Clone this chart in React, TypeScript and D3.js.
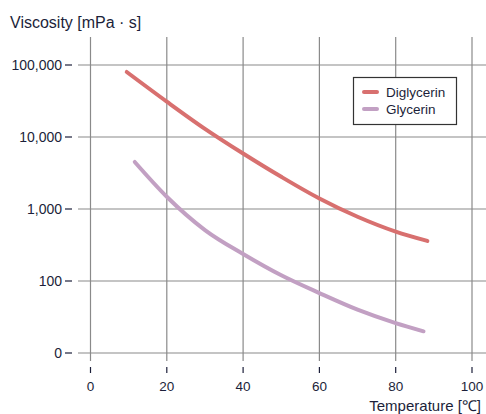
import React from "react";
import * as d3 from "d3";

const xTicks = [0, 20, 40, 60, 80, 100];
const yTicks = [10, 100, 1000, 10000, 100000];
const yTickLabels = ["0", "100", "1,000", "10,000", "100,000"];

const diglycerinT = [9.5, 20, 30, 40, 50, 60, 70, 80, 88.3];
const diglycerinV = [80000, 31000, 13000, 5900, 2800, 1400, 780, 485, 360];
const glycerinT = [11.6, 20, 30, 40, 50, 60, 70, 80, 87.3];
const glycerinV = [4500, 1480, 510, 237, 120, 68, 40, 26, 20];

const seriesNames = ["Diglycerin", "Glycerin"];
const colors = ["#d8706f", "#c2a0c3"];

const W = 486;
const H = 414;
const textColor = "#1c1f3a";
const gridColor = "#8a8a8a";

export default function App() {
  const x = d3.scaleLinear().domain([0, 100]).range([90.5, 472]);
  const y = d3.scaleLog().domain([10, 100000]).range([353, 65]);

  const line = d3
    .line<[number, number]>()
    .x((d) => x(d[0]))
    .y((d) => y(d[1]))
    .curve(d3.curveMonotoneX);

  const series = [
    diglycerinT.map((t, i) => [t, diglycerinV[i]] as [number, number]),
    glycerinT.map((t, i) => [t, glycerinV[i]] as [number, number]),
  ];

  const font = "'Liberation Sans', Arial, Helvetica, sans-serif";

  return (
    <svg
      width={W}
      height={H}
      style={{ position: "absolute", left: 0, top: 0, background: "#fff" }}
      fontFamily={font}
    >
      <text x={10} y={28} fontSize={16} fill={textColor}>
        Viscosity [mPa · s]
      </text>
      {/* horizontal grid */}
      {yTicks.map((v, i) => (
        <g key={"h" + i}>
          <line x1={78} x2={486} y1={y(v)} y2={y(v)} stroke={gridColor} strokeWidth={1.2} />
          <line x1={65} x2={72} y1={y(v)} y2={y(v)} stroke={textColor} strokeWidth={1.2} />
          <text
            x={62}
            y={y(v)}
            dy="0.36em"
            textAnchor="end"
            fontSize={14}
            fill={textColor}
          >
            {yTickLabels[i]}
          </text>
        </g>
      ))}
      {/* vertical grid */}
      {xTicks.map((v, i) => (
        <g key={"v" + i}>
          <line x1={x(v)} x2={x(v)} y1={37} y2={361} stroke={gridColor} strokeWidth={1.2} />
          <line x1={x(v)} x2={x(v)} y1={367} y2={373} stroke={textColor} strokeWidth={1.2} />
          <text x={x(v)} y={391} textAnchor="middle" fontSize={13.5} fill={textColor}>
            {v}
          </text>
        </g>
      ))}
      <text x={481} y={411} textAnchor="end" fontSize={15} fill={textColor}>
        Temperature [℃]
      </text>
      {series.map((s, i) => (
        <path
          key={"s" + i}
          d={line(s) || ""}
          fill="none"
          stroke={colors[i]}
          strokeWidth={4}
          strokeLinecap="round"
        />
      ))}
      {/* legend */}
      <rect x={353.5} y={77.5} width={103} height={47} fill="#fff" stroke="#333" strokeWidth={1.2} />
      {seriesNames.map((n, i) => (
        <g key={"l" + i}>
          <line
            x1={364}
            x2={377}
            y1={92 + i * 17}
            y2={92 + i * 17}
            stroke={colors[i]}
            strokeWidth={4}
            strokeLinecap="round"
          />
          <text x={386} y={92 + i * 17} dy="0.36em" fontSize={13.5} fill={textColor}>
            {n}
          </text>
        </g>
      ))}
    </svg>
  );
}
